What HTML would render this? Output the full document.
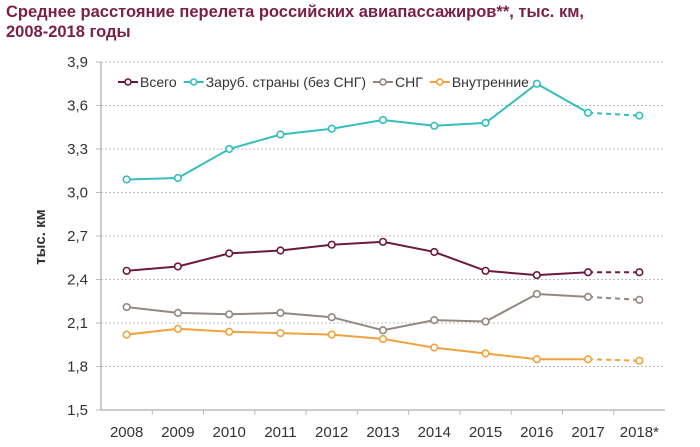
<!DOCTYPE html>
<html><head><meta charset="utf-8">
<style>
body{margin:0;background:#fff;width:700px;height:447px;overflow:hidden;font-family:"Liberation Sans","DejaVu Sans",sans-serif}
.title{position:absolute;left:6px;top:2px;font-size:16.5px;font-weight:bold;color:#7a1f47;line-height:20px}
</style></head><body>
<div class="title">Среднее расстояние перелета российских авиапассажиров**, тыс. км,<br>2008-2018 годы</div>
<svg id="c" width="700" height="447" style="position:absolute;left:0;top:0"></svg>
<script>
const years=["2008","2009","2010","2011","2012","2013","2014","2015","2016","2017","2018*"];
const yTicks=[1.5,1.8,2.1,2.4,2.7,3.0,3.3,3.6,3.9];
const seriesNames=["Всего","Заруб. страны (без СНГ)","СНГ","Внутренние"];
const total=[2.46,2.49,2.58,2.60,2.64,2.66,2.59,2.46,2.43,2.45,2.45];
const abroad=[3.09,3.10,3.30,3.40,3.44,3.50,3.46,3.48,3.75,3.55,3.53];
const cis=[2.21,2.17,2.16,2.17,2.14,2.05,2.12,2.11,2.30,2.28,2.26];
const domestic=[2.02,2.06,2.04,2.03,2.02,1.99,1.93,1.89,1.85,1.85,1.84];
const colors=["#6e1840","#36bdbd","#948780","#f0a23e"];
const S=[total,abroad,cis,domestic];
const L=101,R=665,T=62,B=410;
const bw=(R-L)/years.length;
const x=i=>L+bw*(i+0.5);
const y=v=>B-(v-1.5)/(3.9-1.5)*(B-T);
const svg=document.getElementById('c');const NS="http://www.w3.org/2000/svg";
function mk(t,a,p){const e=document.createElementNS(NS,t);for(const k in a)e.setAttribute(k,a[k]);(p||svg).appendChild(e);return e;}
yTicks.forEach(v=>{
 if(v>1.5){const g=mk('line',{x1:L,x2:R,y1:y(v),y2:y(v),stroke:'#bbb','stroke-dasharray':'2,2'});
 
 }
 mk('line',{x1:L-5,x2:L,y1:y(v),y2:y(v),stroke:'#bbb'});
 const t=mk('text',{x:L-13,y:y(v)+5,'text-anchor':'end','font-size':'15',fill:'#333'});t.textContent=v.toFixed(1).replace('.',',');
 
 
});
mk('line',{x1:L,x2:L,y1:T,y2:B,stroke:'#bbb','stroke-width':1.5});
mk('line',{x1:L,x2:R,y1:B,y2:B,stroke:'#bbb','stroke-width':1.5});
years.forEach((yr,i)=>{
 if(i>0)mk('line',{x1:L+bw*i,x2:L+bw*i,y1:B,y2:B+5,stroke:'#bbb'});
 const t=mk('text',{x:x(i),y:B+27,'text-anchor':'middle','font-size':'15',fill:'#333'});t.textContent=yr;
 
 
});
const yt=mk('text',{x:0,y:0,transform:'translate(45,237) rotate(-90)','text-anchor':'middle','font-size':'15','font-weight':'bold',fill:'#333'});yt.textContent='тыс. км';


S.forEach((d,s)=>{
 const n=d.length;
 const solid=d.slice(0,n-1).map((v,i)=>x(i)+','+y(v)).join(' ');
 const p=mk('polyline',{points:solid,fill:'none',stroke:colors[s],'stroke-width':2});
 
 
 const dl=mk('line',{x1:x(n-2),y1:y(d[n-2]),x2:x(n-1),y2:y(d[n-1]),stroke:colors[s],'stroke-width':2,'stroke-dasharray':'5,4'});
 
 
 d.forEach((v,i)=>{const c=mk('circle',{cx:x(i),cy:y(v),r:3.3,fill:'#fff',stroke:colors[s],'stroke-width':1.6});
 
 });
});
let lx=118;const ly=82;
seriesNames.forEach((nm,s)=>{
 const g=mk('g',{});
 
 
 mk('line',{x1:lx,x2:lx+20,y1:ly,y2:ly,stroke:colors[s],'stroke-width':2},g);
 mk('circle',{cx:lx+10,cy:ly,r:3,fill:'#fff',stroke:colors[s],'stroke-width':1.6},g);
 const t=mk('text',{x:lx+22,y:ly+5,'font-size':'14',fill:'#333'},g);t.textContent=nm;
 lx+=22+t.getComputedTextLength()+7;
});
</script>
</body></html>
